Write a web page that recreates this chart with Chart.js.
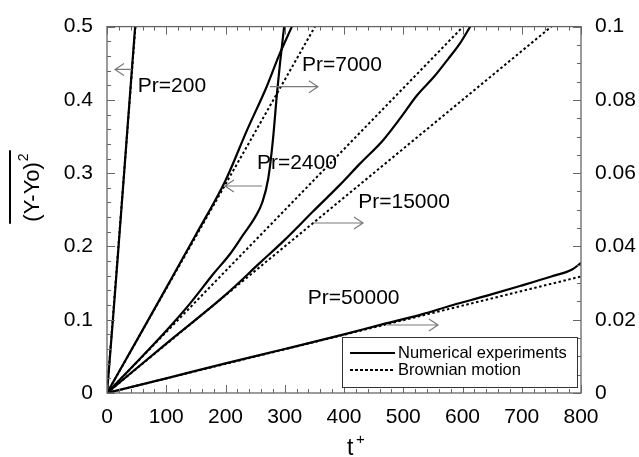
<!DOCTYPE html>
<html>
<head>
<meta charset="utf-8">
<script src="https://cdn.jsdelivr.net/npm/chart.js@4"></script>
<style>
  body { margin: 0; background: #ffffff; }
  #dispersaoChart { display: block; }
</style>
</head>
<body>
<canvas id="dispersaoChart" width="639" height="457"></canvas>
<script>
// Valores (t+ x desvio quadrático médio)
// Pr=200 e Pr=2400 -> eixo da esquerda; Pr=7000, 15000 e 50000 -> eixo da direita
const tPr200 = [0, 10, 20, 30, 40, 47.5];
const yPr200 = [0, 0.1, 0.205, 0.312, 0.42, 0.5];
const tBrown200 = [0, 48];
const yBrown200 = [0, 0.5];

const tPr2400 = [0, 50, 100, 140, 180, 208, 230, 250, 262, 272, 280, 287, 292, 299];
const yPr2400 = [0, 0.042, 0.085, 0.122, 0.163, 0.19, 0.216, 0.24, 0.26, 0.292, 0.345, 0.41, 0.45, 0.5];
const tBrown2400 = [0, 601];
const yBrown2400 = [0, 0.5];

const tPr7000 = [0, 50, 100, 150, 200, 236, 270, 290, 312];
const yPr7000 = [0, 0.0143, 0.0287, 0.0432, 0.058, 0.0716, 0.0838, 0.092, 0.1];
const tBrown7000 = [0, 351];
const yBrown7000 = [0, 0.1];

const tPr15000 = [0, 100, 200, 258, 300, 348, 393, 427, 466, 495, 523, 553, 575, 596, 613];
const yPr15000 = [0, 0.0135, 0.0268, 0.0355, 0.0418, 0.0496, 0.0568, 0.0626, 0.069, 0.075, 0.0812, 0.0865, 0.091, 0.0955, 0.1];
const tBrown15000 = [0, 750];
const yBrown15000 = [0, 0.1];

const tPr50000 = [0, 100, 200, 300, 400, 466, 530, 584, 640, 697, 750, 785, 800];
const yPr50000 = [0, 0.004, 0.0081, 0.012, 0.016, 0.0188, 0.0214, 0.024, 0.0265, 0.0292, 0.0318, 0.0337, 0.0355];
const tBrown50000 = [0, 800];
const yBrown50000 = [0, 0.0318];

// Ticks dos eixos
const ticksX = [0, 100, 200, 300, 400, 500, 600, 700, 800];
const ticksEsquerda = [0, 0.1, 0.2, 0.3, 0.4, 0.5];
const ticksDireita = [0, 0.02, 0.04, 0.06, 0.08, 0.1];

// Rótulos "Pr=..." e setas, em coordenadas do eixo da esquerda
const anotacoes = [
    { texto: 'Pr=200',   x: 52,  y: 0.418, de: [41.7, 0.4416], para: [13.5, 0.4416] },
    { texto: 'Pr=7000',  x: 329, y: 0.448, de: [275, 0.418],   para: [356, 0.418] },
    { texto: 'Pr=2400',  x: 253, y: 0.313, de: [261.6, 0.2825], para: [199, 0.2825] },
    { texto: 'Pr=15000', x: 424, y: 0.261, de: [347.7, 0.232], para: [432, 0.232] },
    { texto: 'Pr=50000', x: 339, y: 0.130, de: [472.6, 0.0928], para: [558.6, 0.0928] }
];

const FONTE = '"Liberation Sans", Arial, sans-serif';

// Monta um dataset a partir dos arrays de tempo e valor
function montarSerie(tempos, valores, eixo, browniano) {
    return {
        data: tempos.map((t, i) => ({ x: t, y: valores[i] })),
        yAxisID: eixo,
        showLine: true,
        borderColor: '#000000',
        borderWidth: browniano ? 2 : 2.2,
        borderDash: browniano ? [2.5, 2.5] : [],
        pointRadius: 0,
        cubicInterpolationMode: browniano ? 'default' : 'monotone',
        tension: browniano ? 0 : 0.4,
        fill: false
    };
}

// Plugin: moldura e marcas de escala para dentro (principais e secundárias)
const molduraPlugin = {
    id: 'moldura',
    afterDatasetsDraw(chart) {
        const { ctx, chartArea: a, scales } = chart;
        ctx.save();
        ctx.strokeStyle = '#666666';
        ctx.lineWidth = 1.3;
        ctx.strokeRect(a.left, a.top, a.right - a.left, a.bottom - a.top);
        ctx.lineWidth = 1;
        ctx.beginPath();
        for (let v = 0; v <= 800; v += 20) {
            const px = Math.round(scales.x.getPixelForValue(v)) + 0.5;
            const len = v % 100 === 0 ? 8 : 4;
            ctx.moveTo(px, a.bottom); ctx.lineTo(px, a.bottom - len);
            ctx.moveTo(px, a.top); ctx.lineTo(px, a.top + len);
        }
        for (let i = 0; i <= 25; i++) {
            const py = Math.round(scales.y.getPixelForValue(i * 0.02)) + 0.5;
            const len = i % 5 === 0 ? 8 : 4;
            ctx.moveTo(a.left, py); ctx.lineTo(a.left + len, py);
        }
        for (let i = 0; i <= 20; i++) {
            const py = Math.round(scales.y1.getPixelForValue(i * 0.005)) + 0.5;
            const len = i % 4 === 0 ? 8 : 4;
            ctx.moveTo(a.right, py); ctx.lineTo(a.right - len, py);
        }
        ctx.stroke();
        ctx.restore();
    }
};

// Plugin: rótulos, setas, legenda e títulos dos eixos
const anotacoesPlugin = {
    id: 'anotacoes',
    afterDraw(chart) {
        const { ctx, chartArea: a, scales } = chart;
        const sx = scales.x, sy = scales.y;
        ctx.save();

        // setas e textos Pr=...
        anotacoes.forEach(an => {
            const x1 = sx.getPixelForValue(an.de[0]), y1 = sy.getPixelForValue(an.de[1]);
            const x2 = sx.getPixelForValue(an.para[0]), y2 = sy.getPixelForValue(an.para[1]);
            const dir = x2 > x1 ? 1 : -1;
            ctx.strokeStyle = '#7a7a7a';
            ctx.lineWidth = 1.2;
            ctx.beginPath();
            ctx.moveTo(x1, y1); ctx.lineTo(x2, y2);
            ctx.moveTo(x2 - dir * 9, y2 - 6); ctx.lineTo(x2, y2); ctx.lineTo(x2 - dir * 9, y2 + 6);
            ctx.stroke();

            ctx.fillStyle = '#000000';
            ctx.font = '21px ' + FONTE;
            ctx.textAlign = 'left';
            ctx.textBaseline = 'middle';
            ctx.fillText(an.texto, sx.getPixelForValue(an.x), sy.getPixelForValue(an.y));
        });

        // legenda dentro da área do gráfico
        const lx = a.right - 239, ly = a.bottom - 56, lw = 235, lh = 50;
        ctx.fillStyle = '#ffffff';
        ctx.fillRect(lx, ly, lw, lh);
        ctx.strokeStyle = '#333333';
        ctx.lineWidth = 1;
        ctx.strokeRect(lx + 0.5, ly + 0.5, lw, lh);
        ctx.strokeStyle = '#000000';
        ctx.lineWidth = 2;
        ctx.beginPath();
        ctx.moveTo(lx + 8, ly + 16); ctx.lineTo(lx + 53, ly + 16);
        ctx.stroke();
        ctx.setLineDash([3, 2]);
        ctx.beginPath();
        ctx.moveTo(lx + 8, ly + 33); ctx.lineTo(lx + 53, ly + 33);
        ctx.stroke();
        ctx.setLineDash([]);
        ctx.fillStyle = '#000000';
        ctx.font = '16.5px ' + FONTE;
        ctx.textAlign = 'left';
        ctx.textBaseline = 'middle';
        ctx.fillText('Numerical experiments', lx + 56, ly + 16);
        ctx.fillText('Brownian motion', lx + 56, ly + 33);

        // título do eixo y: (Y-Yo)^2 com barra por cima
        ctx.save();
        ctx.translate(31, 188);
        ctx.rotate(-Math.PI / 2);
        ctx.font = '22px ' + FONTE;
        const w1 = ctx.measureText('(Y-Yo)').width;
        ctx.font = '14px ' + FONTE;
        const w2 = ctx.measureText('2').width;
        const x0 = -(w1 + w2) / 2;
        ctx.font = '22px ' + FONTE;
        ctx.textBaseline = 'alphabetic';
        ctx.fillText('(Y-Yo)', x0, 8);
        ctx.font = '14px ' + FONTE;
        ctx.fillText('2', x0 + w1 + 1, -3);
        ctx.lineWidth = 2;
        ctx.beginPath();
        ctx.moveTo(x0 - 2, -21); ctx.lineTo(x0 + w1 + w2 + 4, -21);
        ctx.stroke();
        ctx.restore();

        // título do eixo x: t+
        ctx.font = '23px ' + FONTE;
        ctx.textBaseline = 'alphabetic';
        ctx.fillText('t', 347, 455);
        ctx.font = '15px ' + FONTE;
        ctx.fillText('+', 356, 444);

        ctx.restore();
    }
};

function formatarTick(v) {
    return String(Number(v.toFixed(3)));
}

function desenharGrafico() {
    const ctx = document.getElementById('dispersaoChart').getContext('2d');

    new Chart(ctx, {
        type: 'scatter',
        data: {
            datasets: [
                montarSerie(tPr200, yPr200, 'y', false),
                montarSerie(tBrown200, yBrown200, 'y', true),
                montarSerie(tPr2400, yPr2400, 'y', false),
                montarSerie(tBrown2400, yBrown2400, 'y', true),
                montarSerie(tPr7000, yPr7000, 'y1', false),
                montarSerie(tBrown7000, yBrown7000, 'y1', true),
                montarSerie(tPr15000, yPr15000, 'y1', false),
                montarSerie(tBrown15000, yBrown15000, 'y1', true),
                montarSerie(tPr50000, yPr50000, 'y1', false),
                montarSerie(tBrown50000, yBrown50000, 'y1', true)
            ]
        },
        options: {
            responsive: false,
            animation: false,
            devicePixelRatio: 1,
            layout: { padding: { top: 16, left: 0, right: 0, bottom: 0 } },
            plugins: {
                legend: { display: false },
                tooltip: { enabled: false }
            },
            scales: {
                x: {
                    type: 'linear',
                    min: 0, max: 800,
                    afterBuildTicks: s => { s.ticks = ticksX.map(v => ({ value: v })); },
                    afterFit: s => { s.height = 64; },
                    grid: { display: false, drawTicks: false },
                    border: { display: false },
                    ticks: { color: '#000', padding: 12, font: { size: 21, family: FONTE }, callback: formatarTick }
                },
                y: {
                    position: 'left',
                    min: 0, max: 0.5,
                    afterBuildTicks: s => { s.ticks = ticksEsquerda.map(v => ({ value: v })); },
                    afterFit: s => { s.width = 107; },
                    grid: { display: false, drawTicks: false },
                    border: { display: false },
                    ticks: { color: '#000', padding: 14, font: { size: 21, family: FONTE }, callback: formatarTick }
                },
                y1: {
                    position: 'right',
                    min: 0, max: 0.1,
                    afterBuildTicks: s => { s.ticks = ticksDireita.map(v => ({ value: v })); },
                    afterFit: s => { s.width = 58; },
                    grid: { display: false, drawTicks: false },
                    border: { display: false },
                    ticks: { color: '#000', padding: 14, font: { size: 21, family: FONTE }, callback: formatarTick }
                }
            }
        },
        plugins: [molduraPlugin, anotacoesPlugin]
    });
}

window.onload = desenharGrafico;
</script>
</body>
</html>
